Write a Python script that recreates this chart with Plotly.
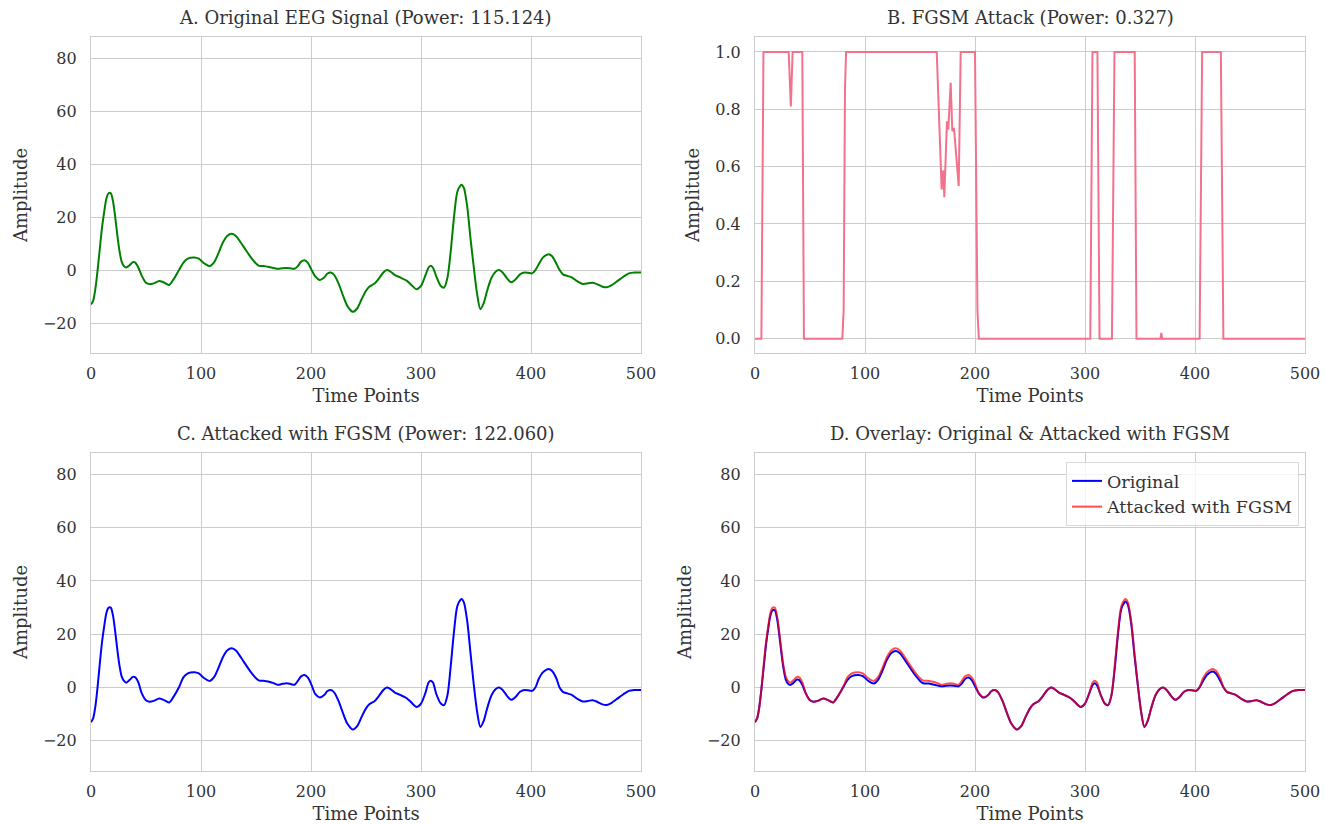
import plotly.graph_objects as go

# ---------------- data ----------------
time_points = [0, 2, 4, 6, 8, 10, 12, 14, 16, 18, 20, 22, 24, 26, 28, 30, 32, 35, 38, 40, 43, 46, 50, 53, 57,
               62, 66, 71, 75, 80, 84, 88, 94, 98, 103, 108, 112, 116, 120, 124, 128, 132, 136, 140, 145,
               150, 153, 158, 161, 166, 170, 174, 178, 182, 185, 188, 191, 194, 197, 200, 204, 208, 212,
               215, 218, 221, 225, 229, 233, 238, 242, 246, 250, 253, 258, 262, 266, 269, 272, 276, 281,
               287, 291, 296, 300, 304, 307, 309, 311, 314, 318, 321, 324, 327, 330, 333, 336, 337, 339,
               342, 345, 348, 351, 354, 357, 360, 364, 368, 371, 374, 378, 382, 386, 390, 393, 397, 401,
               404, 407, 411, 416, 419, 423, 426, 429, 433, 437, 442, 447, 452, 456, 460, 465, 469, 473,
               478, 484, 489, 494, 500]

original = [-13, -11.5, -7, 0, 8, 16, 22, 27, 29, 29, 26, 20, 13, 7, 3, 1.5, 1, 1.8, 3, 2.9, 1, -2, -4.8, -5.3, -5,
            -4.1, -4.6, -5.6, -3.5, 0, 2.8, 4.3, 4.75, 4.3, 2.5, 1.5, 3, 6.5, 10.5, 13, 13.75, 12.8, 10.5, 8, 5,
            2.5, 1.6, 1.5, 1.25, 0.8, 0.5, 0.7, 0.75, 0.6, 0.5, 1.5, 3.2, 3.75, 2.8, 0.5, -2.5, -3.75, -2.8,
            -1.3, -0.9, -1.8, -5, -9.5, -13.5, -15.75, -14.5, -11, -7.8, -6.25, -5, -3, -0.8, 0, -0.5, -1.8, -2.75,
            -4, -5.5, -7.25, -6, -2, 1, 1.6, 0.8, -2.5, -6, -6.6, -3, 7, 20, 29.5, 32, 32.25, 31,
            24, 12, 1, -9, -14.75, -12.5, -8, -3, -0.5, 0, -0.8, -3, -4.6, -3.5, -1.6, -1, -1, -1.25,
            0, 2.2, 4.8, 6, 5.3, 2.5, 0, -1.6, -2.2, -2.75, -4.2, -5.25, -5, -4.75, -5.3, -6.3, -6.5, -5.8,
            -4.3, -2.5, -1.25, -0.9, -0.9]

attacked = [-13, -11.5, -7, 0.3, 9, 17, 23, 28, 30, 30, 27, 21, 14, 8, 4, 2.5, 1.85, 2.8, 4, 3.9, 2, -2, -4.8, -5.3, -5,
            -4.1, -4.6, -5.6, -3.5, 0.1, 3.8, 5.3, 5.75, 5.3, 3.5, 2.5, 4, 7.5, 11.5, 14, 14.75, 13.8, 11.5, 9, 6,
            3.5, 2.6, 2.5, 2.25, 1.66, 1.05, 1.4, 1.64, 1.28, 1.03, 2.5, 4.2, 4.75, 3.8, 1.5, -2.5, -3.75, -2.8,
            -1.3, -0.9, -1.8, -5, -9.5, -13.5, -15.75, -14.5, -11, -7.8, -6.25, -5, -3, -0.8, 0, -0.5, -1.8, -2.75,
            -4, -5.5, -7.25, -6, -2, 2, 2.6, 1.8, -2.5, -6, -6.6, -3, 8, 21, 30.5, 33, 33.25, 32,
            25, 13, 1, -9, -14.75, -12.5, -8, -3, -0.5, 0, -0.8, -3, -4.6, -3.5, -1.6, -1, -1, -1.25,
            0, 3.2, 5.8, 7, 6.3, 3.5, 0, -1.6, -2.2, -2.75, -4.2, -5.25, -5, -4.75, -5.3, -6.3, -6.5, -5.8,
            -4.3, -2.5, -1.25, -0.9, -0.9]

pert_t = [0, 5.8, 7.7, 30.6, 32.6, 34.2, 43, 44.5, 79.4, 80.6, 81.8, 82.8, 165.2, 168.8, 169.7, 171.2, 172.1,
          174.5, 175.7, 177.9, 179.4, 180.9, 185.2, 187, 200, 202.2, 203.5, 304.8, 306.8, 311.3, 313.2,
          324.5, 326.8, 345.2, 346.8, 368.6, 369.4, 370.2, 404.2, 406.5, 423.5, 425.8, 500]
pert_v = [0, 0, 1, 1, 0.81, 1, 1, 0, 0, 0.1, 0.87, 1, 1, 0.584, 0.52, 0.587, 0.493,
          0.758, 0.729, 0.892, 0.723, 0.735, 0.532, 1, 1, 0.1, 0, 0, 1, 1, 0,
          0, 1, 1, 0, 0, 0.02, 0, 0, 1, 1, 0, 0]

titles = ["A. Original EEG Signal (Power: 115.124)",
          "B. FGSM Attack (Power: 0.327)",
          "C. Attacked with FGSM (Power: 122.060)",
          "D. Overlay: Original & Attacked with FGSM"]
x_ticks = [0, 100, 200, 300, 400, 500]
eeg_ticks = [-20, 0, 20, 40, 60, 80]
pert_ticks = [0.0, 0.2, 0.4, 0.6, 0.8, 1.0]

# ---------------- layout geometry ----------------
W, H = 1324, 824
FONT = "DejaVu Serif"
TXT = "#333333"
GRID = "#cccccc"

def xd(a, b):
    return [a / W, b / W]

def yd(top, bottom):
    return [1 - bottom / H, 1 - top / H]

doms = {
    1: (xd(91, 641), yd(37, 353)),
    2: (xd(755, 1305), yd(37, 353)),
    3: (xd(91, 641), yd(453, 771)),
    4: (xd(755, 1305), yd(453, 771)),
}

fig = go.Figure()

spl = dict(shape="spline", smoothing=0.8)
fig.add_trace(go.Scatter(x=time_points, y=original, mode="lines", line=dict(color="#008000", width=2, **spl),
                         xaxis="x", yaxis="y", showlegend=False))
fig.add_trace(go.Scatter(x=pert_t, y=pert_v, mode="lines", line=dict(color="#f4718c", width=2),
                         xaxis="x2", yaxis="y2", showlegend=False))
fig.add_trace(go.Scatter(x=time_points, y=attacked, mode="lines", line=dict(color="#0000ff", width=2, **spl),
                         xaxis="x3", yaxis="y3", showlegend=False))
fig.add_trace(go.Scatter(x=time_points, y=original, mode="lines", name="Original",
                         line=dict(color="#0000ff", width=2, **spl),
                         xaxis="x4", yaxis="y4"))
fig.add_trace(go.Scatter(x=time_points, y=attacked, mode="lines", name="Attacked with FGSM",
                         line=dict(color="rgba(255,0,0,0.7)", width=2, **spl),
                         xaxis="x4", yaxis="y4"))

layout = dict(
    width=W, height=H,
    margin=dict(l=0, r=0, t=0, b=0),
    paper_bgcolor="white", plot_bgcolor="white",
    font=dict(family=FONT, color=TXT, size=16),
    legend=dict(x=1299 / W, y=1 - 462 / H, xanchor="right", yanchor="top",
                bgcolor="rgba(255,255,255,0.8)", bordercolor="#d9d9d9", borderwidth=1,
                font=dict(family=FONT, size=17.5, color=TXT), tracegroupgap=0),
    annotations=[],
)

for i in range(1, 5):
    sx = "" if i == 1 else str(i)
    xdom, ydom = doms[i]
    axis_common = dict(showgrid=True, gridcolor=GRID, gridwidth=1, zeroline=False,
                       showline=True, linecolor=GRID, linewidth=1.25, mirror=True,
                       ticks="outside", tickcolor="rgba(0,0,0,0)", automargin=False,
                       tickfont=dict(family=FONT, size=16, color=TXT))
    layout["xaxis" + sx] = dict(axis_common, domain=xdom, anchor="y" + sx, range=[0, 500],
                                tickvals=x_ticks, ticklen=6,
                                title=dict(text="Time Points", font=dict(family=FONT, size=18, color=TXT), standoff=7))
    if i == 2:
        yr = [-0.05, 1.052]
        tv = pert_ticks
        tf = ".1f"
    else:
        yr = [-31.3, 88.0]
        tv = eeg_ticks
        tf = "d"
    layout["yaxis" + sx] = dict(axis_common, domain=ydom, anchor="x" + sx, range=yr,
                                tickvals=tv, tickformat=tf, ticklen=10,
                                title=dict(text="Amplitude", font=dict(family=FONT, size=18, color=TXT), standoff=10))
    layout["annotations"].append(dict(
        text=titles[i - 1], xref="paper", yref="paper",
        x=(xdom[0] + xdom[1]) / 2, y=ydom[1] + 7 / H, xanchor="center", yanchor="bottom",
        showarrow=False, font=dict(family=FONT, size=18, color=TXT)))

fig.update_layout(**layout)
fig.write_html("out.html")
